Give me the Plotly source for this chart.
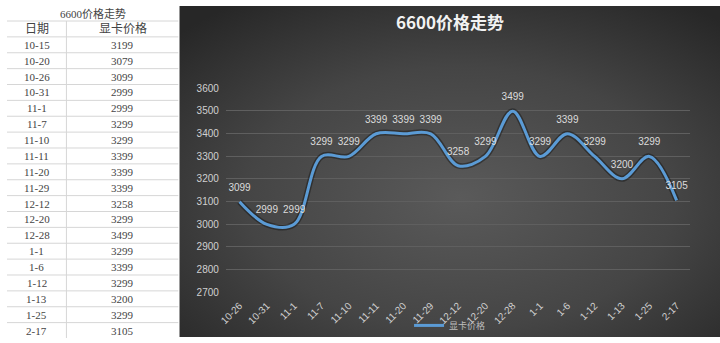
import base64
import plotly.graph_objects as go

# ---- data ----
table_title = "6600价格走势"
table_header = ["日期", "显卡价格"]
table_dates = ["10-15", "10-20", "10-26", "10-31", "11-1", "11-7", "11-10", "11-11", "11-20",
               "11-29", "12-12", "12-20", "12-28", "1-1", "1-6", "1-12", "1-13", "1-25", "2-17"]
table_prices = [3199, 3079, 3099, 2999, 2999, 3299, 3299, 3399, 3399,
                3399, 3258, 3299, 3499, 3299, 3399, 3299, 3200, 3299, 3105]

chart_title = "6600价格走势"
series_name = "显卡价格"
chart_dates = ["10-26", "10-31", "11-1", "11-7", "11-10", "11-11", "11-20", "11-29", "12-12",
               "12-20", "12-28", "1-1", "1-6", "1-12", "1-13", "1-25", "2-17"]
chart_prices = [3099, 2999, 2999, 3299, 3299, 3399, 3399, 3399, 3258,
                3299, 3499, 3299, 3399, 3299, 3200, 3299, 3105]

y_ticks = [2700, 2800, 2900, 3000, 3100, 3200, 3300, 3400, 3500, 3600]

W, H = 720, 343
chart_left = 174

def py(px):
    return 1 - px / H

def pxx(px):
    return px / W

# radial gradient background for chart area
svg = f'''<svg xmlns="http://www.w3.org/2000/svg" width="{W-chart_left}" height="{H}" preserveAspectRatio="none">
<defs><radialGradient id="g" cx="0.52" cy="0.58" r="0.72">
<stop offset="0" stop-color="#5a5a5a"/><stop offset="0.55" stop-color="#454545"/><stop offset="1" stop-color="#272727"/>
</radialGradient></defs>
<rect width="100%" height="100%" fill="url(#g)"/></svg>'''
svg_uri = "data:image/svg+xml;base64," + base64.b64encode(svg.encode()).decode()

# ---- table drawn as shapes + annotations ----
shapes = []
annotations = []
line_col = "#d6d6d6"
header_top = 15.5
row_h = 16.4
col_div = 60
tfont = "Liberation Serif, Noto Sans CJK SC"
n_rows = len(table_dates) + 1  # header + data rows
for i in range(n_rows + 1):
    yy = header_top + i * row_h
    if yy > H:
        break
    shapes.append(dict(type="line", xref="paper", yref="paper", x0=0, x1=pxx(chart_left - 1),
                       y0=py(yy), y1=py(yy), line=dict(color=line_col, width=1), layer="above"))
shapes.append(dict(type="line", xref="paper", yref="paper", x0=pxx(col_div), x1=pxx(col_div),
                   y0=py(header_top), y1=0, line=dict(color=line_col, width=1), layer="above"))

annotations.append(dict(text=table_title, xref="paper", yref="paper", x=pxx(87), y=py(8),
                        showarrow=False, xanchor="center", yanchor="middle",
                        font=dict(family=tfont, size=11, color="#444")))
for j, h in enumerate(table_header):
    annotations.append(dict(text=h, xref="paper", yref="paper",
                            x=pxx(30 if j == 0 else 117), y=py(header_top + row_h / 2),
                            showarrow=False, xanchor="center", yanchor="middle",
                            font=dict(family=tfont, size=12, color="#444")))
for i, (d, p) in enumerate(zip(table_dates, table_prices)):
    cy = header_top + row_h * (i + 1.5)
    annotations.append(dict(text=d, xref="paper", yref="paper", x=pxx(30), y=py(cy),
                            showarrow=False, xanchor="center", yanchor="middle",
                            font=dict(family=tfont, size=11, color="#444")))
    annotations.append(dict(text=str(p), xref="paper", yref="paper", x=pxx(117), y=py(cy),
                            showarrow=False, xanchor="center", yanchor="middle",
                            font=dict(family=tfont, size=11, color="#444")))

annotations.append(dict(text=f"<b>{chart_title}</b>", xref="paper", yref="paper", x=pxx(447), y=py(16),
                        showarrow=False, xanchor="center", yanchor="middle",
                        font=dict(family="Noto Sans CJK SC", size=17, color="#f2f2f2")))

fig = go.Figure()

# soft shadow under line
fig.add_trace(go.Scatter(
    x=chart_dates, y=chart_prices, mode="lines",
    line=dict(color="rgba(0,0,0,0.35)", width=6, shape="spline", smoothing=1),
    showlegend=False, hoverinfo="skip"))

fig.add_trace(go.Scatter(
    x=chart_dates, y=chart_prices, mode="lines+markers+text", name=series_name,
    line=dict(color="#5b9bd5", width=3, shape="spline", smoothing=1),
    marker=dict(size=12, color="rgba(0,0,0,0)"),
    text=[str(v) for v in chart_prices], textposition="top center",
    textfont=dict(family="Liberation Sans, Arial", size=10, color="#dcdcdc"),
))

fig.update_layout(
    width=W, height=H,
    margin=dict(l=0, r=0, t=0, b=0),
    paper_bgcolor="white", plot_bgcolor="rgba(0,0,0,0)",
    images=[dict(source=svg_uri, xref="paper", yref="paper", x=pxx(chart_left), y=1,
                 sizex=1 - chart_left / W, sizey=1 - 1 / H, sizing="stretch", layer="below",
                 xanchor="left", yanchor="top")],
    xaxis=dict(domain=[pxx(221), pxx(690)], type="category", range=[-0.5, 16.5],
               showgrid=False, showline=False, zeroline=False, tickangle=-45,
               ticks="", ticklabelstandoff=5,
               tickfont=dict(family="Liberation Sans, Arial", size=10, color="#d0d0d0")),
    yaxis=dict(domain=[py(295.5), py(85)], range=[2700, 3600],
               tickvals=y_ticks, showgrid=True, gridcolor="#5f5f5f", gridwidth=1,
               zeroline=False, showline=False, ticks="", ticklabelstandoff=6,
               tickfont=dict(family="Liberation Sans, Arial", size=10, color="#d0d0d0")),
    legend=dict(orientation="h", x=pxx(406), y=py(330), xanchor="left", yanchor="middle",
                bgcolor="rgba(0,0,0,0)", font=dict(family="Noto Sans CJK SC", size=9, color="#bdbdbd")),
    shapes=shapes,
    annotations=annotations,
)

fig.write_html("out.html")
